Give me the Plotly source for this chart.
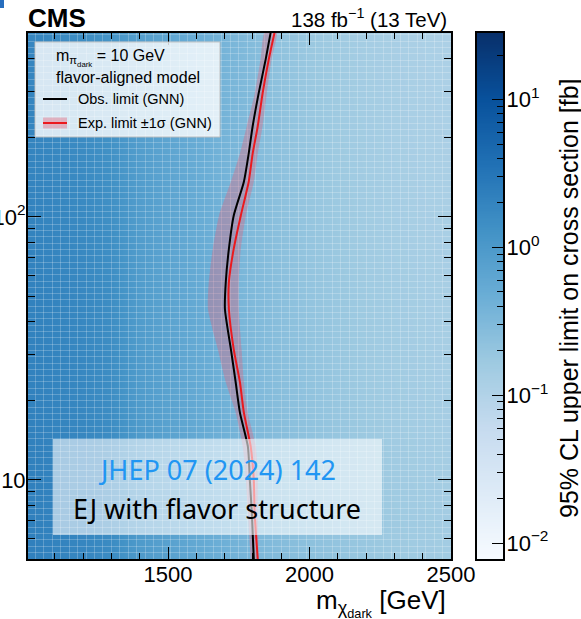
import numpy as np
import plotly.graph_objects as go

# ---------------- data ----------------
# heat map: 95% CL upper limit on cross section [fb]
mx_grid = [1000, 1100, 1200, 1300, 1400, 1500, 1600, 1700, 1800, 1900,
           2000, 2100, 2200, 2300, 2400, 2500]
ct_grid = [5, 10, 20, 50, 100, 200, 500]
xs_row_5 = [2.3, 2.1, 1.9, 1.6, 0.95, 0.75, 0.58, 0.44, 0.34, 0.28, 0.24, 0.21, 0.19, 0.17, 0.16, 0.15]
xs_row_10 = [2.3, 2.1, 1.9, 1.6, 0.95, 0.74, 0.57, 0.43, 0.33, 0.27, 0.23, 0.20, 0.18, 0.16, 0.15, 0.14]
xs_row_20 = [2.2, 2.0, 1.8, 1.5, 0.92, 0.72, 0.56, 0.42, 0.32, 0.26, 0.22, 0.19, 0.17, 0.155, 0.145, 0.135]
xs_row_50 = [2.2, 2.0, 1.8, 1.5, 0.90, 0.70, 0.55, 0.41, 0.31, 0.25, 0.21, 0.185, 0.165, 0.15, 0.14, 0.13]
xs_row_100 = [2.1, 1.9, 1.7, 1.4, 0.88, 0.68, 0.53, 0.40, 0.30, 0.24, 0.20, 0.175, 0.155, 0.14, 0.13, 0.125]
xs_row_200 = [2.0, 1.8, 1.6, 1.3, 0.85, 0.66, 0.51, 0.38, 0.29, 0.23, 0.19, 0.165, 0.15, 0.135, 0.125, 0.12]
xs_row_500 = [1.9, 1.7, 1.5, 1.2, 0.82, 0.64, 0.49, 0.37, 0.28, 0.22, 0.18, 0.16, 0.14, 0.13, 0.12, 0.115]

# exclusion contours (m_X_dark [GeV] vs c tau)
ct_curve = [5, 7.5, 10, 13.4, 18, 23.5, 31.4, 44.6, 56.5, 75.5, 101, 136, 174, 221, 294, 397, 505]
obs_mx = [1803, 1796, 1789, 1782, 1754, 1739, 1722, 1701, 1704, 1715, 1732, 1768, 1785, 1799, 1820, 1845, 1863]
exp_mx = [1817, 1806, 1803, 1792, 1768, 1754, 1732, 1715, 1715, 1732, 1757, 1785, 1799, 1817, 1834, 1856, 1877]
exp_lo = [1792, 1782, 1775, 1764, 1739, 1704, 1676, 1641, 1644, 1658, 1680, 1722, 1754, 1778, 1806, 1827, 1842]
exp_hi = [1820, 1817, 1817, 1810, 1782, 1768, 1760, 1750, 1750, 1757, 1775, 1803, 1817, 1834, 1849, 1866, 1884]

x_ticks = [1500, 2000, 2500]
x_ticktext = ["1500", "2000", "2500"]
y_ticks = [10, 100]
y_ticktext = ["10", "10<sup>2</sup>"]
cb_ticks = [0.01, 0.1, 1, 10]
cb_ticktext = ["10<sup>\u22122</sup>", "10<sup>\u22121</sup>", "10<sup>0</sup>", "10<sup>1</sup>"]

# ---------------- styling ----------------
W, H = 581, 619
FONT = "Liberation Sans, Arial, Helvetica, sans-serif"
BLUES = [[0.0, "rgb(247,251,255)"], [0.125, "rgb(222,235,247)"], [0.25, "rgb(198,219,239)"],
         [0.375, "rgb(158,202,225)"], [0.5, "rgb(107,174,214)"], [0.625, "rgb(66,146,198)"],
         [0.75, "rgb(33,113,181)"], [0.875, "rgb(8,81,156)"], [1.0, "rgb(8,48,107)"]]
ZMIN, ZMAX = -2.108, 1.45          # log10 range of colour scale
XR = [1005, 2500]
YR = [np.log10(5), np.log10(500)]


def fx(p):
    return p / W


def fy(p):
    return 1 - p / H


XDOM = [fx(28), fx(451)]
YDOM = [fy(559), fy(33)]

z_rows = [xs_row_5, xs_row_10, xs_row_20, xs_row_50, xs_row_100, xs_row_200, xs_row_500]
z_log = np.log10(np.array(z_rows, dtype=float))

fig = go.Figure()

# main heat map (subplot xy)
fig.add_trace(go.Heatmap(x=mx_grid, y=ct_grid, z=z_log, colorscale=BLUES, zmin=ZMIN, zmax=ZMAX,
                         zsmooth="best", showscale=False, hoverinfo="skip",
                         xaxis="x", yaxis="y"))

# colour bar drawn as its own narrow axis (subplot x2y2)
cb_y = 10 ** np.linspace(ZMIN, ZMAX, 300)
fig.add_trace(go.Heatmap(x=[0, 1], y=cb_y, z=np.log10(cb_y)[:, None].repeat(2, axis=1),
                         colorscale=BLUES, zmin=ZMIN, zmax=ZMAX, showscale=False,
                         hoverinfo="skip", xaxis="x2", yaxis="y2"))

# invisible trace to carry the faint cell-grid subplot (x3y3)
fig.add_trace(go.Scatter(x=[None], y=[None], xaxis="x3", yaxis="y3", showlegend=False,
                         hoverinfo="skip"))

# limit band and curves (subplot x4y4)
fig.add_trace(go.Scatter(x=exp_lo + exp_hi[::-1], y=ct_curve + ct_curve[::-1],
                         fill="toself", fillcolor="rgba(222,100,125,0.37)",
                         line=dict(width=0, shape="spline", smoothing=0.6),
                         mode="lines", showlegend=False, hoverinfo="skip",
                         xaxis="x4", yaxis="y4"))
fig.add_trace(go.Scatter(x=exp_mx, y=ct_curve, mode="lines",
                         line=dict(color="rgb(235,25,30)", width=2, shape="spline", smoothing=0.6),
                         showlegend=False, xaxis="x4", yaxis="y4"))
fig.add_trace(go.Scatter(x=obs_mx, y=ct_curve, mode="lines",
                         line=dict(color="black", width=2, shape="spline", smoothing=0.6),
                         showlegend=False, xaxis="x4", yaxis="y4"))

hidden = dict(showticklabels=False, ticks="", showgrid=False, zeroline=False, showline=False,
              automargin=False)

tickfont = dict(family=FONT, size=22, color="black")

fig.update_layout(
    width=W, height=H, margin=dict(l=0, r=0, t=0, b=0, autoexpand=False),
    paper_bgcolor="white", plot_bgcolor="rgba(0,0,0,0)", showlegend=False,
    xaxis=dict(domain=XDOM, range=XR, anchor="y", **hidden),
    yaxis=dict(domain=YDOM, type="log", range=YR, anchor="x", **hidden),
    xaxis2=dict(domain=[fx(477), fx(503)], range=[0, 1], anchor="y2", automargin=False,
                showticklabels=False, ticks="", showgrid=False, zeroline=False,
                showline=True, mirror=True, linecolor="black", linewidth=2),
    yaxis2=dict(domain=YDOM, type="log", range=[ZMIN, ZMAX], anchor="x2", side="right",
                automargin=False,
                showgrid=False, zeroline=False, showline=True, mirror=True,
                linecolor="black", linewidth=2,
                tickmode="array", tickvals=cb_ticks, ticktext=cb_ticktext,
                ticks="inside", ticklen=11, tickwidth=1.3, tickcolor="black",
                tickfont=tickfont, ticklabelstandoff=-3,
                minor=dict(ticks="inside", ticklen=6, tickwidth=1, tickcolor="black",
                           tickvals=[m * d for d in (0.01, 0.1, 1, 10) for m in range(2, 10)])),
    xaxis3=dict(domain=XDOM, range=XR, anchor="y3", showticklabels=False, ticks="",
                automargin=False,
                zeroline=False, showline=False, showgrid=True, tick0=1000, dtick=30,
                gridcolor="rgba(255,255,255,0.22)", gridwidth=1),
    yaxis3=dict(domain=YDOM, range=YR, anchor="x3", showticklabels=False, ticks="",
                automargin=False,
                zeroline=False, showline=False, showgrid=True, tick0=0.7, dtick=0.024,
                gridcolor="rgba(255,255,255,0.22)", gridwidth=1),
    xaxis4=dict(domain=XDOM, range=XR, anchor="y4", showgrid=False, zeroline=False,
                automargin=False,
                showline=True, linecolor="black", linewidth=2, mirror="ticks",
                tickmode="array", tickvals=x_ticks, ticktext=x_ticktext,
                ticks="inside", ticklen=12, tickwidth=1.3, tickcolor="black",
                tickfont=tickfont, ticklabelstandoff=-5, layer="above traces",
                minor=dict(ticks="inside", ticklen=6, tickwidth=1.2, tickcolor="black",
                           tickvals=[1100, 1200, 1300, 1400, 1600, 1700, 1800, 1900,
                                     2100, 2200, 2300, 2400])),
    yaxis4=dict(domain=YDOM, type="log", range=YR, anchor="x4", showgrid=False, zeroline=False,
                automargin=False,
                showline=True, linecolor="black", linewidth=2, mirror="ticks",
                tickmode="array", tickvals=y_ticks, ticktext=y_ticktext,
                ticks="inside", ticklen=13, tickwidth=1.3, tickcolor="black",
                tickfont=tickfont, ticklabelstandoff=-4, layer="above traces",
                minor=dict(ticks="inside", ticklen=7, tickwidth=1.2, tickcolor="black",
                           tickvals=[6, 7, 8, 9, 20, 30, 40, 50, 60, 70, 80, 90,
                                     200, 300, 400])),
)

shapes = []
annotations = []

# legend box
shapes.append(dict(type="rect", xref="paper", yref="paper", x0=fx(35), x1=fx(220),
                   y0=fy(137), y1=fy(42), fillcolor="rgba(255,255,255,0.8)",
                   line=dict(color="rgba(190,190,190,0.9)", width=1), layer="above"))
shapes.append(dict(type="line", xref="paper", yref="paper", x0=fx(43), x1=fx(67),
                   y0=fy(99), y1=fy(99), line=dict(color="black", width=2), layer="above"))
shapes.append(dict(type="rect", xref="paper", yref="paper", x0=fx(43), x1=fx(67),
                   y0=fy(128.5), y1=fy(117.5), fillcolor="rgba(230,110,130,0.45)",
                   line=dict(width=0), layer="above"))
shapes.append(dict(type="line", xref="paper", yref="paper", x0=fx(43), x1=fx(67),
                   y0=fy(123), y1=fy(123), line=dict(color="rgb(235,25,30)", width=2), layer="above"))
# journal box
shapes.append(dict(type="rect", xref="paper", yref="paper", x0=fx(53), x1=fx(382),
                   y0=fy(535), y1=fy(439), fillcolor="rgba(255,255,255,0.58)",
                   line=dict(width=0), layer="above"))
# tiny corner mark
shapes.append(dict(type="rect", xref="paper", yref="paper", x0=0, x1=fx(4),
                   y0=fy(8), y1=1, fillcolor="rgb(40,110,190)", line=dict(width=0), layer="above"))


def ann(text, x, y, size, xanchor="left", color="black", family=FONT, angle=0):
    annotations.append(dict(text=text, x=fx(x), y=fy(y), xref="paper", yref="paper",
                            xanchor=xanchor, yanchor="middle", showarrow=False,
                            textangle=angle, font=dict(family=family, size=size, color=color)))


ann("m<sub>\u03c0<sub>dark</sub></sub> = 10 GeV", 54, 58, 16)
ann("flavor-aligned model", 54, 77, 16)
ann("Obs. limit (GNN)", 76, 99, 14.5)
ann("Exp. limit \u00b11\u03c3 (GNN)", 76, 123, 14.5)

ann("<b>CMS</b>", 26, 18, 26)
ann("138 fb<sup>\u22121</sup> (13 TeV)", 449, 18, 20.5, xanchor="right")
ann("m<sub>\u03c7<sub>dark</sub></sub> [GeV]", 448, 603, 26, xanchor="right")
ann("95% CL upper limit on cross section [fb]", 569, 298, 25, xanchor="center", angle=-90)

ann("JHEP 07 (2024) 142", 217, 469, 27, xanchor="center", color="rgb(33,150,243)",
    family="Noto Sans, Open Sans, sans-serif")
ann("EJ with flavor structure", 217, 508, 27, xanchor="center",
    family="Noto Sans, Open Sans, sans-serif")

fig.update_layout(shapes=shapes, annotations=annotations)

fig.write_html("out.html", config={"displayModeBar": False},
               post_script="document.body.style.margin='0px';")
